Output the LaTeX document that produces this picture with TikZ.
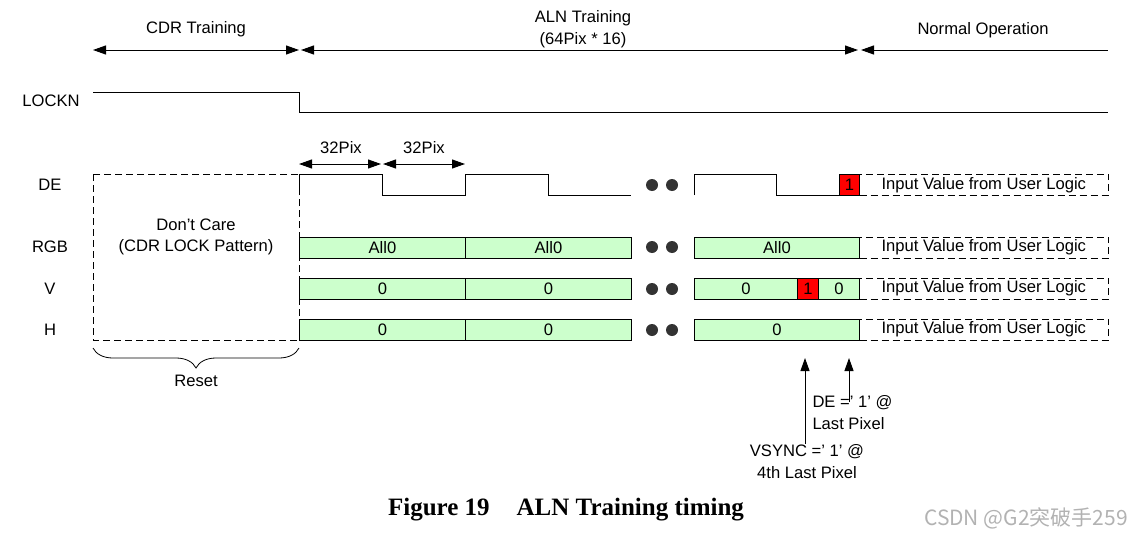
\documentclass[tikz,border=0pt]{standalone}
\usepackage{fontspec}
\setmainfont{Liberation Sans}
\newfontfamily\capfont{Liberation Serif}
\newfontfamily\cjk{Noto Sans CJK SC}
\usetikzlibrary{arrows.meta,decorations.pathreplacing}
\definecolor{lgreen}{HTML}{CCFFCC}
\definecolor{dotgray}{HTML}{333333}
\begin{document}
\begin{tikzpicture}[x=1pt,y=-1pt,line width=1pt,
  txt/.style={font=\fontsize{16.6}{21.5}\selectfont, inner sep=0pt},
  tip/.style={-{Triangle[length=13pt,width=9pt]}},
  tipb/.style={{Triangle[length=13pt,width=9pt]}-{Triangle[length=13pt,width=9pt]}},
  tips/.style={{Triangle[length=13pt,width=9pt]}-},
  bar/.style={draw, fill=lgreen, minimum height=21pt, inner sep=0pt, anchor=west, font=\fontsize{16.6}{19}\selectfont},
  redbox/.style={draw, fill=red, minimum height=21pt, inner sep=0pt, anchor=west, font=\fontsize{16.6}{19}\selectfont},
  user/.style={draw, dashed, dash pattern=on 7pt off 4pt, minimum width=249pt, minimum height=21pt, inner sep=0pt, anchor=west},
  blob/.style={circle, fill=dotgray, minimum size=12pt, inner sep=0pt},
  wave/.style={line width=1pt}]
\useasboundingbox (0,0) rectangle (1137,538);

% phase labels and arrows
\node[txt] (tcdr) at (196,29) {CDR Training};
\node[txt, align=center] (taln) at (583,29) {ALN Training\\(64Pix * 16)};
\node[txt] (tnorm) at (983,30) {Normal Operation};
\coordinate (cdrL) at (93,50);
\coordinate (cdrR) at (299,50);
\coordinate (alnL) at (301,50);
\coordinate (alnR) at (858,50);
\coordinate (norL) at (861,50);
\coordinate (norR) at (1108,50);
\draw[tipb] (cdrL) -- (cdrR);
\draw[tipb] (alnL) -- (alnR);
\draw[tips] (norL) -- (norR);

% signal names
\node[txt] (nlock) at (51,101) {LOCKN};
\node[txt] (nde) at (50,185) {DE};
\node[txt] (nrgb) at (50,247) {RGB};
\node[txt] (nv) at (50,289) {V};
\node[txt] (nh) at (50,330) {H};

% LOCKN
\draw[wave] (93,92) -- (299,92) -- (299,112) -- (1108,112);

% Don't care box
\draw[dashed, dash pattern=on 7pt off 4pt] (93,174) rectangle (299,340);
\node[txt, align=center] (dc) at (196,237) {Don't Care\\(CDR LOCK Pattern)};

% brace
\draw[line width=0.8pt, decorate, decoration={brace, mirror, amplitude=20pt, aspect=0.5}] (93,348) -- (299,348);
\node[txt] (reset) at (196,381) {Reset};

% 32Pix arrows
\coordinate (p1) at (299,164);
\coordinate (p2) at (382,164);
\coordinate (p3) at (465,164);
\draw[tipb] (p1) -- (381,164);
\draw[tipb] (383,164) -- (p3);
\node[txt] (l32a) at (341,148) {32Pix};
\node[txt] (l32b) at (424,148) {32Pix};

% DE waveform
\draw[wave] (299,195) -- (299,174) -- (382,174) -- (382,195) -- (465,195) -- (465,174) -- (548,174) -- (548,195) -- (631,195);
\draw[wave] (694,195) -- (694,174) -- (776,174) -- (776,195) -- (839,195);
\node[redbox, minimum width=20pt] (de1) at (839,184.5) {1};
\node[user] (deu) at (859,184.5) {};
\node[txt, anchor=west] (deut) at (881,185) {Input Value from User Logic};

% RGB
\node[bar, minimum width=166pt] (rgb1) at (299,247.5) {All0};
\node[bar, minimum width=166pt] (rgb2) at (465,247.5) {All0};
\node[bar, minimum width=165pt] (rgb3) at (694,247.5) {All0};
\node[user] (rgbu) at (859,247.5) {};
\node[txt, anchor=west] (rgbut) at (881,247.5) {Input Value from User Logic};

% V
\node[bar, minimum width=166pt] (v1) at (299,288.5) {0};
\node[bar, minimum width=166pt] (v2) at (465,288.5) {0};
\node[bar, minimum width=103pt] (v3) at (694,288.5) {0};
\node[redbox, minimum width=21pt] (v4) at (797,288.5) {1};
\node[bar, minimum width=41pt] (v5) at (818,288.5) {0};
\node[user] (vu) at (859,288.5) {};
\node[txt, anchor=west] (vut) at (881,288.5) {Input Value from User Logic};

% H
\node[bar, minimum width=166pt] (h1) at (299,329.5) {0};
\node[bar, minimum width=166pt] (h2) at (465,329.5) {0};
\node[bar, minimum width=165pt] (h3) at (694,329.5) {0};
\node[user] (hu) at (859,329.5) {};
\node[txt, anchor=west] (hut) at (881,329.5) {Input Value from User Logic};

% dots
\foreach \yy/\nm in {185/d, 247/r, 289/v, 330/h} {
  \node[blob] (\nm a) at (652,\yy) {};
  \node[blob] (\nm b) at (672,\yy) {};
}

% annotations
\node[txt, anchor=north west, align=left] (ade) at (812,395) {DE =' 1' @\\Last Pixel};
\node[txt, anchor=north, align=center] (avs) at (807,444) {VSYNC =' 1' @\\4th Last Pixel};
\coordinate (tipv) at (805,358);
\coordinate (tipd) at (849,358);
\coordinate (botd) at (849,402);
\draw[tip] (avs.north -| tipv) -- (tipv);
\draw[tip] (botd) -- (tipd);

% caption
\node[font=\capfont\bfseries\fontsize{25}{29}\selectfont, inner sep=0pt] (cap) at (566,510) {Figure 19\hspace{27pt}ALN Training timing};
\node[font=\cjk\fontsize{21}{25}\selectfont, text=black!30, inner sep=0pt] (wm) at (1026,518) {CSDN @G2突破手259};
\end{tikzpicture}
\end{document}
